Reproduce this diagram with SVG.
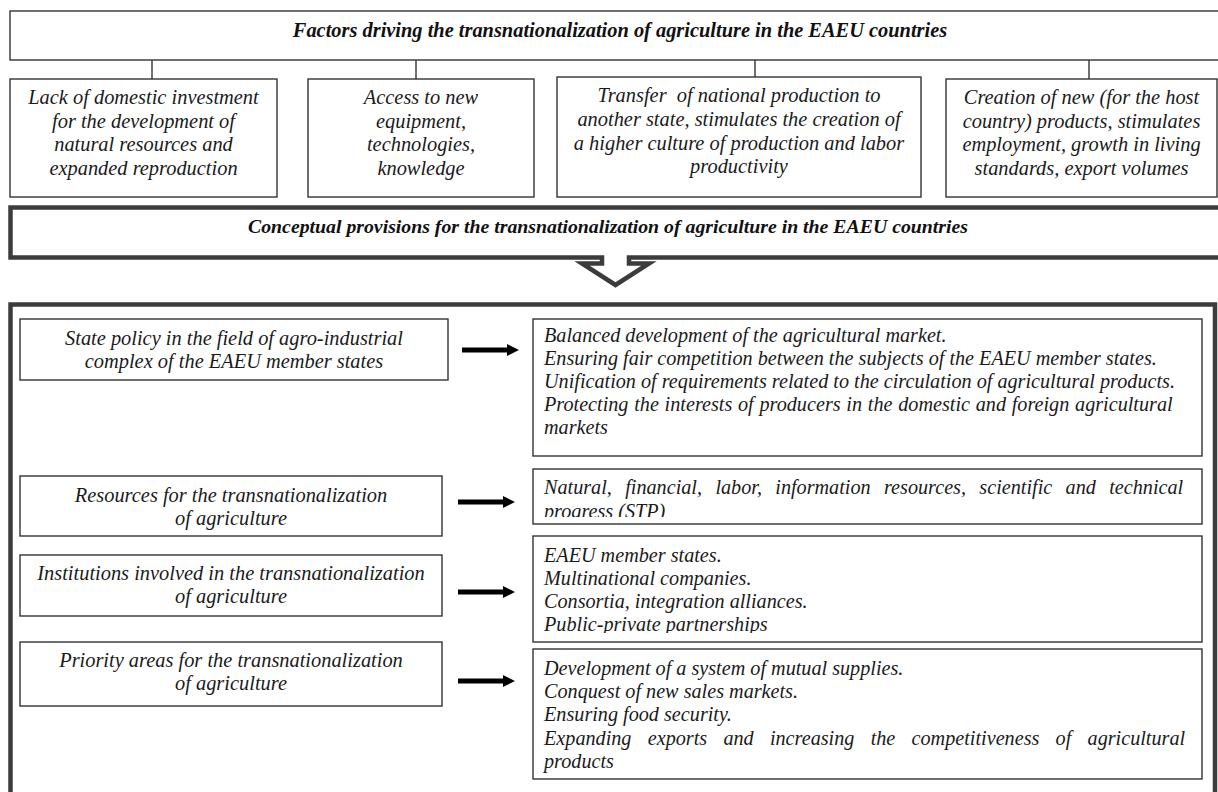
<svg xmlns="http://www.w3.org/2000/svg" width="1218" height="792" viewBox="0 0 1218 792">
<style>
.thin{fill:#fff;stroke:#333;stroke-width:1.4}
.thick{fill:none;stroke:#3c3c3c;stroke-width:4.5;stroke-linejoin:miter}
.t{font-family:"Liberation Serif","Times New Roman",serif;font-style:italic;font-size:20.4px;fill:#1a1a1a}
.r{font-family:"Liberation Serif","Times New Roman",serif;font-style:italic;font-size:20.2px;fill:#1a1a1a}
.c{text-anchor:middle}
.h{font-family:"Liberation Serif","Times New Roman",serif;font-style:italic;font-weight:bold;fill:#111;text-anchor:middle}
.conn{stroke:#333;stroke-width:1.4}
.arr{fill:#000}
</style>
<defs>
<clipPath id="clipNat"><rect x="534" y="470" width="668" height="47"/></clipPath>
<clipPath id="clipInst"><rect x="534" y="537" width="668" height="96"/></clipPath>
</defs>

<g id="factors-title">
<rect class="thin" x="10" y="11" width="1212" height="49"/>
<text class="h" x="620" y="37" font-size="20.4">Factors driving the transnationalization of agriculture in the EAEU countries</text>
</g>

<g id="connectors">
<line class="conn" x1="152" y1="60" x2="152" y2="79"/>
<line class="conn" x1="416" y1="60" x2="416" y2="79"/>
<line class="conn" x1="755" y1="60" x2="755" y2="77"/>
<line class="conn" x1="1089" y1="60" x2="1089" y2="79"/>
<polygon class="arr" points="462,347.5 507,347.5 507,344 519,350 507,356 507,352.5 462,352.5"/>
<polygon class="arr" points="458,499.5 503,499.5 503,496 515,502 503,508 503,504.5 458,504.5"/>
<polygon class="arr" points="458,589.5 503,589.5 503,586 515,592 503,598 503,594.5 458,594.5"/>
<polygon class="arr" points="458,678.5 503,678.5 503,675 515,681 503,687 503,683.5 458,683.5"/>
</g>

<g id="factor-1">
<rect class="thin" x="10" y="79" width="267" height="118"/>
<text class="t c" x="143.5" y="104">Lack of domestic investment</text>
<text class="t c" x="143.5" y="127.5">for the development of</text>
<text class="t c" x="143.5" y="151">natural resources and</text>
<text class="t c" x="143.5" y="175">expanded reproduction</text>
</g>

<g id="factor-2">
<rect class="thin" x="308" y="79" width="226" height="118"/>
<text class="t c" x="421" y="104">Access to new</text>
<text class="t c" x="421" y="127.5">equipment,</text>
<text class="t c" x="421" y="151">technologies,</text>
<text class="t c" x="421" y="175">knowledge</text>
</g>

<g id="factor-3">
<rect class="thin" x="557" y="77" width="364" height="120"/>
<text class="t c" x="739" y="102" style="white-space:pre">Transfer  of national production to</text>
<text class="t c" x="739" y="126">another state, stimulates the creation of</text>
<text class="t c" x="739" y="150">a higher culture of production and labor</text>
<text class="t c" x="739" y="173">productivity</text>
</g>

<g id="factor-4">
<rect class="thin" x="946" y="79" width="271" height="118"/>
<text class="t c" x="1081.5" y="104">Creation of new (for the host</text>
<text class="t c" x="1081.5" y="127.5">country) products, stimulates</text>
<text class="t c" x="1081.5" y="151">employment, growth in living</text>
<text class="t c" x="1081.5" y="175">standards, export volumes</text>
</g>

<g id="conceptual-banner">
<path class="thick" d="M1224,207.5 H10.5 V257.5 H602 V263.5 H582 L615.5,285 L649,263.5 H629 V257.5 H1224"/>
<text class="h" x="608" y="233" font-size="19.8">Conceptual provisions for the transnationalization of agriculture in the EAEU countries</text>
</g>

<g id="container">
<rect class="thick" x="10.5" y="304.5" width="1204.5" height="520"/>
</g>

<g id="state-policy">
<rect class="thin" x="20" y="319" width="428" height="61"/>
<text class="t c" x="234" y="345">State policy in the field of agro-industrial</text>
<text class="t c" x="234" y="368">complex of the EAEU member states</text>
</g>

<g id="state-policy-effects">
<rect class="thin" x="533" y="319" width="669" height="137"/>
<text class="r" x="544" y="342">Balanced development of the agricultural market.</text>
<text class="r" x="544" y="365">Ensuring fair competition between the subjects of the EAEU member states.</text>
<text class="r" x="544" y="388">Unification of requirements related to the circulation of agricultural products.</text>
<text class="r" x="544" y="411" word-spacing="0.7">Protecting the interests of producers in the domestic and foreign agricultural</text>
<text class="r" x="544" y="434">markets</text>
</g>

<g id="resources">
<rect class="thin" x="20" y="476" width="422" height="60"/>
<text class="t c" x="231" y="502">Resources for the transnationalization</text>
<text class="t c" x="231" y="524.5">of agriculture</text>
</g>

<g id="resources-list">
<rect class="thin" x="533" y="469" width="669" height="55"/>
<g clip-path="url(#clipNat)">
<text class="r" x="544" y="494" word-spacing="8.3">Natural, financial, labor, information resources, scientific and technical</text>
<text class="r" x="544" y="518">progress (STP)</text>
</g>
</g>

<g id="institutions">
<rect class="thin" x="20" y="555" width="422" height="61"/>
<text class="t c" x="231" y="580">Institutions involved in the transnationalization</text>
<text class="t c" x="231" y="603">of agriculture</text>
</g>

<g id="institutions-list">
<rect class="thin" x="533" y="536" width="669" height="106"/>
<g clip-path="url(#clipInst)">
<text class="r" x="544" y="562">EAEU member states.</text>
<text class="r" x="544" y="585">Multinational companies.</text>
<text class="r" x="544" y="608">Consortia, integration alliances.</text>
<text class="r" x="544" y="631">Public-private partnerships</text>
</g>
</g>

<g id="priority">
<rect class="thin" x="20" y="642" width="422" height="64"/>
<text class="t c" x="231" y="667">Priority areas for the transnationalization</text>
<text class="t c" x="231" y="690">of agriculture</text>
</g>

<g id="priority-list">
<rect class="thin" x="533" y="649" width="669" height="130"/>
<text class="r" x="544" y="675">Development of a system of mutual supplies.</text>
<text class="r" x="544" y="698">Conquest of new sales markets.</text>
<text class="r" x="544" y="721">Ensuring food security.</text>
<text class="r" x="544" y="745" word-spacing="11.2">Expanding exports and increasing the competitiveness of agricultural</text>
<text class="r" x="544" y="768">products</text>
</g>
</svg>
